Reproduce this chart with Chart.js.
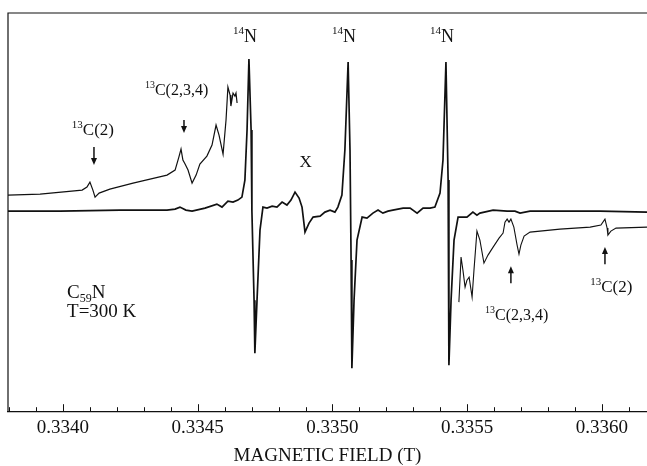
<!DOCTYPE html>
<html>
<head>
<meta charset="utf-8">
<script src="https://cdn.jsdelivr.net/npm/chart.js@4.4.1/dist/chart.umd.min.js"></script>
<style>
  body { margin: 0; background: #fff; }
  #wrap { width: 647px; height: 466px; }
</style>
</head>
<body>
<div id="wrap"><canvas id="myChart"></canvas></div>
<script>
// field in tesla, intensity in arbitrary units (0 = baseline of the main trace)
let mainField = [0.333796, 0.333989, 0.334212, 0.334386, 0.334416, 0.334434, 0.334456, 0.334479, 0.334527, 0.334571,
  0.334590, 0.334612, 0.334631, 0.334649, 0.334664, 0.334675, 0.334683, 0.334690, 0.334698, 0.334701,
  0.334709, 0.334712, 0.334720, 0.334731, 0.334742, 0.334757, 0.334776, 0.334794, 0.334813, 0.334831,
  0.334846, 0.334861, 0.334876, 0.334887, 0.334898, 0.334913, 0.334928, 0.334954, 0.334972, 0.334991,
  0.335009, 0.335020, 0.335035, 0.335046, 0.335058, 0.335065, 0.335069, 0.335072, 0.335080, 0.335091,
  0.335110, 0.335128, 0.335150, 0.335169, 0.335187, 0.335206, 0.335224, 0.335262, 0.335288, 0.335314,
  0.335336, 0.335362, 0.335380, 0.335399, 0.335410, 0.335421, 0.335429, 0.335432, 0.335440, 0.335451,
  0.335466, 0.335484, 0.335499, 0.335521, 0.335536, 0.335547, 0.335596, 0.335648, 0.335677, 0.335696,
  0.335733, 0.335993, 0.336167];
let mainSignal = [0, 0, 1, 1, 2, 4, 1, 0, 3, 7,
  4, 10, 9, 11, 14, 31, 81, 152, 81, 0,
  -89, -142, -89, -19, 4, 3, 5, 4, 9, 6,
  11, 19, 13, 4, -21, -12, -6, -5, -1, 1,
  -1, 4, 16, 61, 149, 61, -49, -157, -89, -29,
  -6, -7, -2, 1, -2, 0, 1, 3, 3, -2,
  3, 3, 4, 18, 51, 149, 31, -154, -89, -29,
  -6, -6, -6, -1, -4, -2, 1, 0, 0, -2,
  0, 0, -1];

// amplified trace, low field side
let lowField = [0.333796, 0.333915, 0.334071, 0.334089, 0.334100, 0.334111, 0.334119, 0.334134, 0.334174, 0.334260,
  0.334323, 0.334386, 0.334416, 0.334430, 0.334438, 0.334445, 0.334453, 0.334464, 0.334479, 0.334494,
  0.334508, 0.334534, 0.334553, 0.334568, 0.334579, 0.334594, 0.334605, 0.334612, 0.334620, 0.334623,
  0.334631, 0.334638, 0.334642, 0.334646];
let lowSignal = [16, 17, 21, 24, 29, 21, 14, 18, 22, 28,
  32, 36, 41, 54, 62, 51, 47, 41, 28, 36,
  47, 55, 66, 86, 76, 57, 91, 124, 116, 105,
  118, 115, 118, 108];

// amplified trace, high field side
let highField = [0.335469, 0.335473, 0.335477, 0.335484, 0.335492, 0.335499, 0.335507, 0.335518, 0.335525, 0.335536,
  0.335547, 0.335562, 0.335577, 0.335596, 0.335618, 0.335633, 0.335640, 0.335648, 0.335655, 0.335662,
  0.335673, 0.335685, 0.335692, 0.335699, 0.335711, 0.335733, 0.335844, 0.335956, 0.335996, 0.336011,
  0.336019, 0.336022, 0.336033, 0.336052, 0.336167];
let highSignal = [-91, -69, -46, -59, -76, -69, -66, -86, -59, -20,
  -29, -52, -44, -36, -27, -22, -11, -8, -11, -8,
  -16, -34, -43, -34, -25, -21, -18, -16, -14, -8,
  -17, -24, -20, -17, -16];

let majorTicks = [0.3340, 0.3345, 0.3350, 0.3355, 0.3360];
let minorTicks = [0.3338, 0.3339, 0.3341, 0.3342, 0.3343, 0.3344, 0.3346, 0.3347, 0.3348, 0.3349,
  0.3351, 0.3352, 0.3353, 0.3354, 0.3356, 0.3357, 0.3358, 0.3359, 0.3361];

// text labels: sup / main / sub, left edge in field, baseline in intensity
let labels = [
  { sup: "14", text: "N", x: 0.334631, y: 169, size: 18 },
  { sup: "14", text: "N", x: 0.334998, y: 169, size: 18 },
  { sup: "14", text: "N", x: 0.335362, y: 169, size: 18 },
  { sup: "13", text: "C(2)", x: 0.334033, y: 76, size: 17 },
  { sup: "13", text: "C(2,3,4)", x: 0.334304, y: 116, size: 16 },
  { text: "X", x: 0.334878, y: 44, size: 17 },
  { text: "C", sub: "59", after: "N", x: 0.334015, y: -87, size: 19 },
  { text: "T=300 K", x: 0.334015, y: -106, size: 19 },
  { sup: "13", text: "C(2,3,4)", x: 0.335566, y: -109, size: 16 },
  { sup: "13", text: "C(2)", x: 0.335956, y: -81, size: 17 }
];

// arrows: field, from intensity, to intensity (head at "to")
let arrows = [
  { x: 0.334115, from: 64, to: 46 },
  { x: 0.334449, from: 91, to: 78 },
  { x: 0.335662, from: -72, to: -55 },
  { x: 0.336011, from: -53, to: -36 }
];

function toPoints(xs, ys) {
  return xs.map((x, i) => ({ x: x, y: ys[i] }));
}

const serif = "'Liberation Serif', 'Times New Roman', serif";

const extras = {
  id: "extras",
  afterDraw(chart) {
    let ctx = chart.ctx;
    let xs = chart.scales.x;
    let ys = chart.scales.y;
    let a = chart.chartArea;

    ctx.save();
    ctx.strokeStyle = "#111";
    ctx.lineWidth = 1.2;
    ctx.beginPath();
    ctx.moveTo(a.left, a.bottom);
    ctx.lineTo(a.left, a.top);
    ctx.lineTo(a.right, a.top);
    ctx.stroke();

    // inward ticks on the field axis
    ctx.lineWidth = 1;
    majorTicks.forEach(v => {
      let px = Math.round(xs.getPixelForValue(v)) + 0.5;
      ctx.beginPath();
      ctx.moveTo(px, a.bottom);
      ctx.lineTo(px, a.bottom - 7);
      ctx.stroke();
    });
    minorTicks.forEach(v => {
      let px = Math.round(xs.getPixelForValue(v)) + 0.5;
      if (px < a.left || px > a.right) return;
      ctx.beginPath();
      ctx.moveTo(px, a.bottom);
      ctx.lineTo(px, a.bottom - 4);
      ctx.stroke();
    });

    // arrows
    ctx.fillStyle = "#111";
    arrows.forEach(ar => {
      let px = xs.getPixelForValue(ar.x);
      let y1 = ys.getPixelForValue(ar.from);
      let y2 = ys.getPixelForValue(ar.to);
      let dir = y2 > y1 ? 1 : -1;
      ctx.lineWidth = 1.5;
      ctx.beginPath();
      ctx.moveTo(px, y1);
      ctx.lineTo(px, y2 - dir * 6);
      ctx.stroke();
      ctx.beginPath();
      ctx.moveTo(px - 3, y2 - dir * 7);
      ctx.lineTo(px + 3, y2 - dir * 7);
      ctx.lineTo(px, y2);
      ctx.closePath();
      ctx.fill();
    });

    // labels
    ctx.textBaseline = "alphabetic";
    labels.forEach(l => {
      let px = xs.getPixelForValue(l.x);
      let py = ys.getPixelForValue(l.y);
      let small = Math.round(l.size * 0.62);
      if (l.sup) {
        ctx.font = small + "px " + serif;
        ctx.fillText(l.sup, px, py - l.size * 0.42);
        px += ctx.measureText(l.sup).width;
      }
      ctx.font = l.size + "px " + serif;
      ctx.fillText(l.text, px, py);
      px += ctx.measureText(l.text).width;
      if (l.sub) {
        ctx.font = small + "px " + serif;
        ctx.fillText(l.sub, px, py + l.size * 0.2);
        px += ctx.measureText(l.sub).width;
        ctx.font = l.size + "px " + serif;
        ctx.fillText(l.after, px, py);
      }
    });
    ctx.restore();
  }
};

new Chart(document.getElementById("myChart"), {
  type: "scatter",
  data: {
    datasets: [
      {
        data: toPoints(mainField, mainSignal),
        showLine: true,
        borderColor: "#111",
        borderWidth: 1.7,
        pointRadius: 0,
        tension: 0
      },
      {
        data: toPoints(lowField, lowSignal),
        showLine: true,
        borderColor: "#111",
        borderWidth: 1.2,
        pointRadius: 0,
        tension: 0
      },
      {
        data: toPoints(highField, highSignal),
        showLine: true,
        borderColor: "#111",
        borderWidth: 1.1,
        pointRadius: 0,
        tension: 0
      }
    ]
  },
  options: {
    responsive: true,
    maintainAspectRatio: false,
    animation: false,
    layout: { padding: { left: 8, top: 13, right: 0, bottom: 0 } },
    plugins: {
      legend: { display: false },
      tooltip: { enabled: false }
    },
    scales: {
      x: {
        type: "linear",
        min: 0.333796,
        max: 0.336167,
        afterBuildTicks: scale => {
          scale.ticks = majorTicks.map(v => ({ value: v }));
        },
        ticks: {
          color: "#111",
          padding: 6,
          maxRotation: 0,
          autoSkip: false,
          font: { family: serif, size: 19, lineHeight: 1.1 },
          callback: v => v.toFixed(4)
        },
        grid: { drawOnChartArea: false, drawTicks: false },
        border: { display: true, color: "#111", width: 1.2 },
        title: {
          display: true,
          text: "MAGNETIC FIELD (T)",
          color: "#111",
          padding: { top: 1, bottom: 0 },
          font: { family: serif, size: 19, lineHeight: 1.1 }
        }
      },
      y: {
        display: false,
        min: -200,
        max: 198
      }
    }
  },
  plugins: [extras]
});
</script>
</body>
</html>
